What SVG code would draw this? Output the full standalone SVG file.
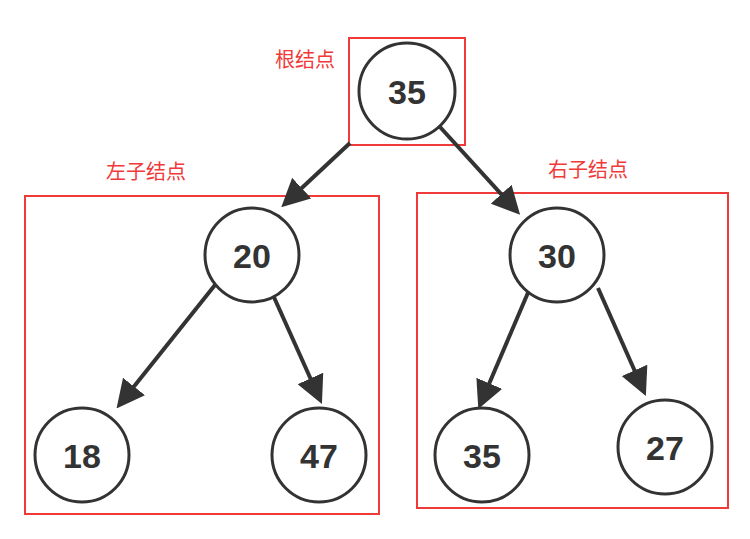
<svg xmlns="http://www.w3.org/2000/svg" width="750" height="539" viewBox="0 0 750 539">
<style>
.n{fill:#fff;stroke:#333;stroke-width:3}
.t{font-family:"Liberation Sans",sans-serif;font-weight:bold;font-size:34px;fill:#333;text-anchor:middle}
.b{fill:none;stroke:#f03a3a;stroke-width:2}
.l{font-family:"Noto Sans CJK SC",sans-serif;font-size:20px;fill:#f03a3a;text-anchor:middle}
.c{stroke:#333;stroke-width:4;fill:none;marker-end:url(#a)}
</style>
<defs><marker id="a" markerWidth="7" markerHeight="7" refX="4" refY="3.5" orient="auto"><path d="M0,0 L7,3.5 L0,7 Z" fill="#333"/></marker></defs>
<rect width="750" height="539" fill="#fff"/>
<g id="boxes">
<rect class="b" x="349" y="38" width="116" height="107"/>
<rect class="b" x="25" y="196" width="354" height="318"/>
<rect class="b" x="417" y="193" width="311" height="315"/>
<text class="l" x="305" y="67">根结点</text>
<text class="l" x="146" y="179">左子结点</text>
<text class="l" x="588" y="177">右子结点</text>
</g>
<g id="connectors">
<line class="c" x1="350" y1="143" x2="290" y2="199"/>
<line class="c" x1="440" y1="127" x2="512" y2="206"/>
<line class="c" x1="215" y1="285" x2="124" y2="399"/>
<line class="c" x1="273" y1="295" x2="317" y2="393"/>
<line class="c" x1="530" y1="288" x2="483" y2="398"/>
<line class="c" x1="598" y1="288" x2="641" y2="385"/>
</g>
<g id="n35"><circle class="n" cx="407" cy="91" r="48"/><text class="t" x="407" y="104">35</text></g>
<g id="n20"><circle class="n" cx="252" cy="255" r="47"/><text class="t" x="252" y="268">20</text></g>
<g id="n30"><circle class="n" cx="557" cy="255" r="47"/><text class="t" x="557" y="268">30</text></g>
<g id="n18"><circle class="n" cx="82" cy="455" r="47"/><text class="t" x="82" y="468">18</text></g>
<g id="n47"><circle class="n" cx="319" cy="455" r="47"/><text class="t" x="319" y="468">47</text></g>
<g id="n35b"><circle class="n" cx="482" cy="455" r="47"/><text class="t" x="482" y="468">35</text></g>
<g id="n27"><circle class="n" cx="665" cy="447" r="47"/><text class="t" x="665" y="460">27</text></g>
</svg>
